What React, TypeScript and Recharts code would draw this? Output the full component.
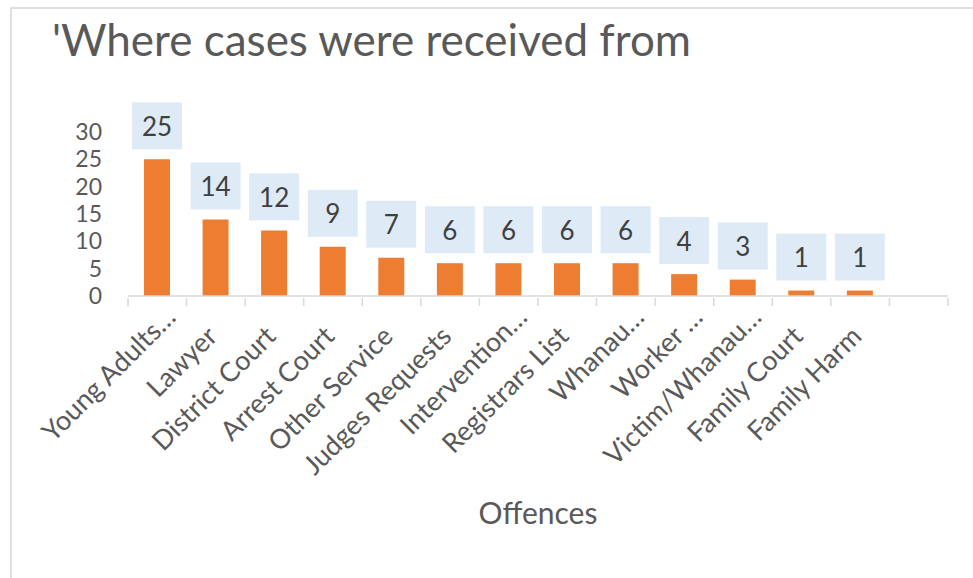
import { Bar, BarChart, LabelList, XAxis, YAxis } from 'recharts';

const categories = [
  'Young Adults…',
  'Lawyer',
  'District Court',
  'Arrest Court',
  'Other Service',
  'Judges Requests',
  'Intervention…',
  'Registrars List',
  'Whanau…',
  'Worker …',
  'Victim/Whanau…',
  'Family Court',
  'Family Harm',
  '',
];
const cases = [25, 14, 12, 9, 7, 6, 6, 6, 6, 4, 3, 1, 1, null];
const yTicks = [0, 5, 10, 15, 20, 25, 30];

const data = categories.map((name, i) => ({ name, cases: cases[i] }));

const FONT = 'Lato, "Open Sans", sans-serif';

// tick marks sit between categories, labels at the category centre
const CategoryTick = (props: any) => {
  const { x, y, payload, index, visibleTicksCount } = props;
  const half = payload.offset ?? 0;
  const isLast = index === visibleTicksCount - 1;
  // truncated labels sit further up the slope, like the original
  const cut = String(payload.value).endsWith('…');
  const tx = x + (cut ? 20 : 3);
  const ty = y + (cut ? 21 : 40);
  return (
    <g>
      <line x1={x - half} x2={x - half} y1={y} y2={y + 8} stroke="#d9d9d9" strokeWidth={1.5} />
      {isLast && <line x1={x + half} x2={x + half} y1={y} y2={y + 8} stroke="#d9d9d9" strokeWidth={1.5} />}
      <text
        x={tx}
        y={ty}
        transform={`rotate(-45 ${tx} ${ty})`}
        textAnchor="end"
        fontSize={27}
        fill="#595959"
        fontFamily={FONT}
      >
        {payload.value}
      </text>
    </g>
  );
};

const ValueBox = (props: any) => {
  const { x, y, width, value } = props;
  if (value == null) return null;
  const cx = x + width / 2;
  const bottom = y - 10;
  return (
    <g>
      <rect x={cx - 25} y={bottom - 47} width={50} height={47} fill="#deebf7" />
      <text
        x={cx}
        y={bottom - 23.5}
        textAnchor="middle"
        dominantBaseline="central"
        fontSize={26}
        fill="#404040"
        fontFamily={FONT}
      >
        {value}
      </text>
    </g>
  );
};

export default function App() {
  return (
    <div style={{ position: 'absolute', left: 0, top: 0, width: 973, height: 578, background: '#fff', fontFamily: FONT }}>
      <div
        style={{
          position: 'absolute',
          left: 10,
          top: 7,
          right: 0,
          bottom: 0,
          borderTop: '2px solid #e0e0e0',
          borderLeft: '2px solid #e0e0e0',
        }}
      />
      <div style={{ position: 'absolute', left: 52, top: 13, fontSize: 44, color: '#595959', whiteSpace: 'nowrap' }}>
        'Where cases were received from
      </div>
      <BarChart width={973} height={578} data={data} margin={{ top: 132, right: 25, bottom: 52, left: 100 }}>
        <XAxis
          dataKey="name"
          interval={0}
          height={230}
          tickSize={0}
          tickLine={false}
          stroke="#d9d9d9"
          strokeWidth={1.5}
          tick={<CategoryTick />}
          label={{ value: 'Offences', position: 'insideBottom', offset: 2, fontSize: 30, fill: '#595959', fontFamily: FONT }}
        />
        <YAxis
          width={28}
          domain={[0, 30]}
          ticks={yTicks}
          interval={0}
          axisLine={false}
          tickLine={false}
          tickSize={0}
          tickMargin={26}
          tick={{ fontSize: 23, fill: '#595959', fontFamily: FONT }}
        />
        <Bar dataKey="cases" fill="#ed7d31" barSize={26} isAnimationActive={false}>
          <LabelList dataKey="cases" content={<ValueBox />} />
        </Bar>
      </BarChart>
    </div>
  );
}
